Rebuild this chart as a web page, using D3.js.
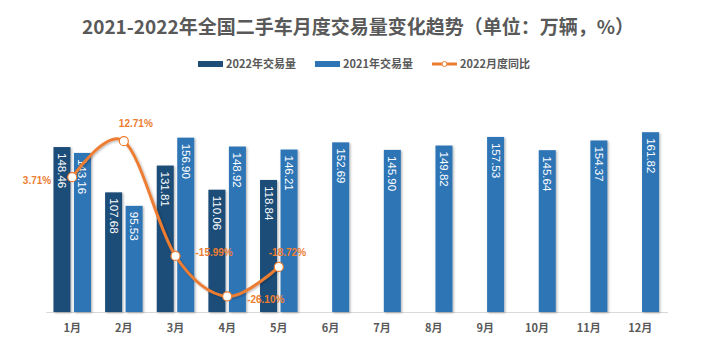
<!DOCTYPE html>
<html>
<head>
<meta charset="utf-8">
<script src="https://cdn.jsdelivr.net/npm/d3@7"></script>
<style>
  body { margin: 0; background: #fff; }
  svg { display: block; }
</style>
</head>
<body>
<script>
// data
var months = ["1月", "2月", "3月", "4月", "5月", "6月", "7月", "8月", "9月", "10月", "11月", "12月"];
var vol2022 = [148.46, 107.68, 131.81, 110.06, 118.84];
var vol2021 = [143.16, 95.53, 156.90, 148.92, 146.21, 152.69, 145.90, 149.82, 157.53, 145.64, 154.37, 161.82];
var yoy2022 = [3.71, 12.71, -15.99, -26.10, -18.72];
var seriesNames = ["2022年交易量", "2021年交易量", "2022月度同比"];

// where each percent label sits relative to its point
var pctLabelPos = [
  { dx: -21, dy: 7, anchor: "end" },
  { dx: -5, dy: -14, anchor: "start" },
  { dx: 20, dy: 0, anchor: "start" },
  { dx: 20, dy: 7, anchor: "start" },
  { dx: -10, dy: -11, anchor: "start" }
];

var width = 718,
	height = 363;

var c2022 = "#1f4e79",
	c2021 = "#2e75b6",
	cLine = "#ed7d31",
	cText = "#595959";

var svg = d3.select("body").append("svg")
	.attr("width", width)
	.attr("height", height);

var defs = svg.append("defs");
defs.append("filter")
	.attr("id", "shadow")
	.attr("x", "-30%").attr("y", "-10%")
	.attr("width", "160%").attr("height", "130%")
	.append("feDropShadow")
		.attr("dx", 1.2).attr("dy", 1)
		.attr("stdDeviation", 1.2)
		.attr("flood-color", "#000")
		.attr("flood-opacity", 0.3);

var font = "'Noto Sans CJK SC', 'Noto Sans', sans-serif";

// title
svg.append("text")
	.attr("x", 358)
	.attr("y", 34)
	.attr("text-anchor", "middle")
	.style("font-family", font)
	.style("font-weight", "bold")
	.style("font-size", "19px")
	.style("fill", cText)
	.text("2021-2022年全国二手车月度交易量变化趋势（单位：万辆，%）");

// scales
var x0 = d3.scaleBand()
	.domain(months)
	.range([46.4, 666.1])
	.padding(0);

var x1 = d3.scaleBand()
	.domain(["2022", "2021"])
	.range([0, x0.bandwidth()])
	.paddingInner(0.17)
	.paddingOuter(0.344);

var y = d3.scaleLinear()
	.domain([0, 180])
	.range([312, 112]);

var yPct = d3.scaleLinear()
	.domain([-30, 20])
	.range([312, 112]);

// axis line + month labels
var xAxis = svg.append("g")
	.attr("transform", "translate(0,312)")
	.call(d3.axisBottom(x0).tickSize(0).tickPadding(12));
xAxis.select(".domain")
	.attr("stroke", "#d9d9d9")
	.attr("stroke-width", 1.2)
	.attr("d", "M46.4,0.5H668");
xAxis.selectAll("text")
	.style("font-family", font)
	.style("font-weight", "bold")
	.style("font-size", "11px")
	.style("fill", cText);

// bars
var barData = [];
vol2021.forEach(function(v, i){
	if (i < vol2022.length) {
		barData.push({ m: months[i], s: "2022", v: vol2022[i] });
	}
	barData.push({ m: months[i], s: "2021", v: v });
});

var bars = svg.append("g").selectAll("g")
	.data(barData)
	.enter().append("g");

bars.append("rect")
	.attr("x", function(d){ return x0(d.m) + x1(d.s); })
	.attr("y", function(d){ return y(d.v); })
	.attr("width", x1.bandwidth())
	.attr("height", function(d){ return y(0) - y(d.v); })
	.attr("fill", function(d){ return d.s == "2022" ? c2022 : c2021; })
	.attr("filter", "url(#shadow)");

bars.append("text")
	.attr("transform", function(d){
		var cx = x0(d.m) + x1(d.s) + x1.bandwidth() / 2;
		return "translate(" + (cx - 4) + "," + (y(d.v) + 6) + ") rotate(90)";
	})
	.style("font-family", "'Liberation Sans', Arial, sans-serif")
	.style("font-size", "11.5px")
	.style("fill", "#fff")
	.text(function(d){ return d.v.toFixed(2); });

// yoy line
var lineData = yoy2022.map(function(v, i){
	return { m: months[i], v: v };
});

var line = d3.line()
	.x(function(d){ return x0(d.m) + x0.bandwidth() / 2; })
	.y(function(d){ return yPct(d.v); })
	.curve(d3.curveCatmullRom.alpha(0));

svg.append("path")
	.datum(lineData)
	.attr("d", line)
	.attr("fill", "none")
	.attr("stroke", cLine)
	.attr("stroke-width", 3)
	.attr("stroke-linecap", "round")
	.attr("filter", "url(#shadow)");

svg.append("g").selectAll("circle")
	.data(lineData)
	.enter().append("circle")
		.attr("cx", function(d){ return x0(d.m) + x0.bandwidth() / 2; })
		.attr("cy", function(d){ return yPct(d.v); })
		.attr("r", 4.5)
		.attr("fill", "#fff")
		.attr("stroke", cLine)
		.attr("stroke-width", 1.2);

svg.append("g").selectAll("text")
	.data(lineData)
	.enter().append("text")
		.attr("x", function(d, i){ return x0(d.m) + x0.bandwidth() / 2 + pctLabelPos[i].dx; })
		.attr("y", function(d, i){ return yPct(d.v) + pctLabelPos[i].dy; })
		.attr("text-anchor", function(d, i){ return pctLabelPos[i].anchor; })
		.style("font-family", "'Liberation Sans', Arial, sans-serif")
		.style("font-weight", "bold")
		.style("font-size", "10px")
		.style("fill", cLine)
		.text(function(d){ return d.v.toFixed(2) + "%"; });

// legend
var legendX = [198, 315, 432];
var legend = svg.append("g")
	.selectAll("g")
	.data(seriesNames)
	.enter().append("g")
		.attr("transform", function(d, i){ return "translate(" + legendX[i] + ",64)"; });

legend.filter(function(d, i){ return i < 2; })
	.append("rect")
		.attr("x", 0).attr("y", -3)
		.attr("width", 25).attr("height", 6)
		.attr("fill", function(d, i){ return i == 0 ? c2022 : c2021; });

var lineItem = legend.filter(function(d, i){ return i == 2; });
lineItem.append("line")
	.attr("x1", 0).attr("x2", 25)
	.attr("y1", 0).attr("y2", 0)
	.attr("stroke", cLine)
	.attr("stroke-width", 3);
lineItem.append("circle")
	.attr("cx", 12.5).attr("cy", 0).attr("r", 2.5)
	.attr("fill", "#fff")
	.attr("stroke", cLine)
	.attr("stroke-width", 1);

legend.append("text")
	.attr("x", 28)
	.attr("y", 4)
	.style("font-family", font)
	.style("font-weight", "bold")
	.style("font-size", "11px")
	.style("fill", cText)
	.text(function(d){ return d; });
</script>
</body>
</html>
